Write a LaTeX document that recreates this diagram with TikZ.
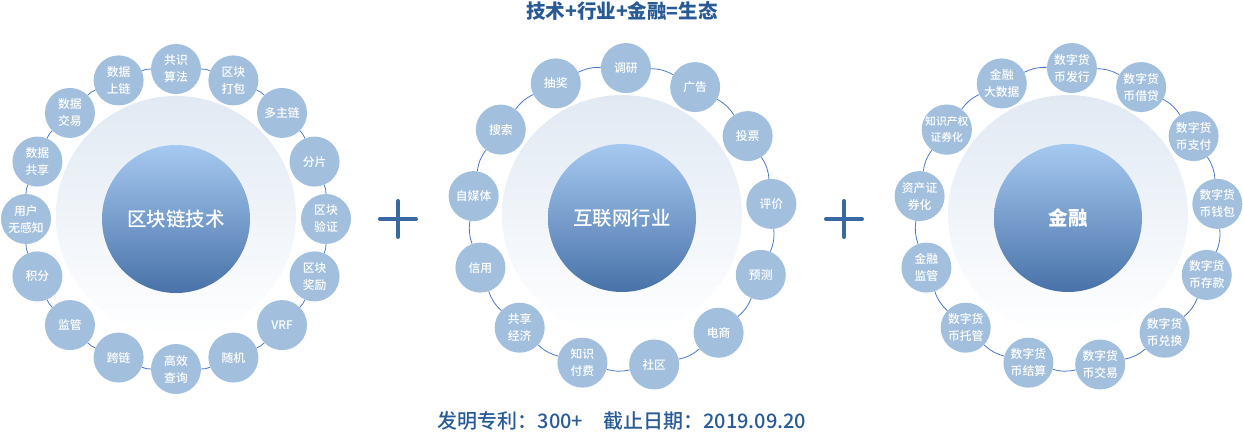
\documentclass[tikz,border=0pt]{standalone}
\usepackage{fontspec}
\setmainfont{Noto Sans CJK SC}
\newfontfamily\medfont{Noto Sans CJK SC Medium}
\usepackage{tikz}

\definecolor{satfill}{RGB}{162,192,221}
\definecolor{ringline}{RGB}{74,118,206}
\definecolor{coretop}{RGB}{166,201,240}
\definecolor{corebot}{RGB}{72,114,168}
\definecolor{halotop}{RGB}{225,233,243}
\definecolor{halomid}{RGB}{236,242,251}
\definecolor{titleblue}{RGB}{40,90,150}
\definecolor{plusblue}{RGB}{58,104,160}

\tikzset{
  sat/.style={circle, fill=satfill, minimum size=50pt, inner sep=0pt, align=center,
    text=white, font=\medfont\fontsize{11.8}{17}\selectfont},
  halo/.style={circle, minimum size=240pt, inner sep=0pt,
    top color=halotop, middle color=halomid, bottom color=white},
  core/.style={circle, minimum size=148pt, inner sep=0pt, top color=coretop,
    bottom color=corebot, text=white, font=\medfont\fontsize{19.5}{22}\selectfont},
  ring/.style={draw=ringline, line width=0.8pt},
  plus/.style={draw=plusblue, line width=4pt, line cap=round}
}

\begin{document}
\begin{tikzpicture}[x=1pt, y=1pt]
\useasboundingbox (0,0) rectangle (1243,432);

\node[font=\bfseries\fontsize{19.5}{22}\selectfont, text=titleblue] (title) at (622,421) {技术+行业+金融=生态};
\node[font=\medfont\fontsize{20}{22}\selectfont, text=titleblue] (foot) at (622,11) {发明专利：300+\quad 截止日期：2019.09.20};

% blockchain
\begin{scope}[shift={(176,213)}]
\node[halo] (techhalo) at (0,3) {};
\node[core] (techcore) at (0,0) {区块链技术};
\node[sat] (tech0) at (90:150) {共识\\算法};
\node[sat] (tech1) at (67.5:150) {区块\\打包};
\node[sat] (tech2) at (45:150) {多主链};
\node[sat] (tech3) at (22.5:150) {分片};
\node[sat] (tech4) at (0:150) {区块\\验证};
\node[sat] (tech5) at (-22.5:150) {区块\\奖励};
\node[sat] (tech6) at (-45:150) {VRF};
\node[sat] (tech7) at (-67.5:150) {随机};
\node[sat] (tech8) at (-90:150) {高效\\查询};
\node[sat] (tech9) at (-112.5:150) {跨链};
\node[sat] (tech10) at (-135:150) {监管};
\node[sat] (tech11) at (-157.5:150) {积分};
\node[sat] (tech12) at (180:150) {用户\\无感知};
\node[sat] (tech13) at (157.5:150) {数据\\共享};
\node[sat] (tech14) at (135:150) {数据\\交易};
\node[sat] (tech15) at (112.5:150) {数据\\上链};
\end{scope}
\foreach \i [evaluate=\i as \j using {int(mod(\i+1,16))}] in {0,...,15}
  \draw[ring] (tech\i) to[bend left=11.25] (tech\j);

\draw[plus] (380,213) -- (416,213);
\draw[plus] (398,195) -- (398,231);

% internet
\begin{scope}[shift={(622,214)}]
\node[halo] (webhalo) at (0,3) {};
\node[core] (webcore) at (0,0) {互联网行业};
\node[sat] (web0) at (88.5:150) {调研};
\node[sat] (web1) at (60.8:150) {广告};
\node[sat] (web2) at (33.1:150) {投票};
\node[sat] (web3) at (5.4:150) {评价};
\node[sat] (web4) at (-22.3:150) {预测};
\node[sat] (web5) at (-49.9:150) {电商};
\node[sat] (web6) at (-77.6:150) {社区};
\node[sat] (web7) at (-105.3:150) {知识\\付费};
\node[sat] (web8) at (-133.0:150) {共享\\经济};
\node[sat] (web9) at (-160.7:150) {信用};
\node[sat] (web10) at (-188.4:150) {自媒体};
\node[sat] (web11) at (-216.1:150) {搜索};
\node[sat] (web12) at (-243.8:150) {抽奖};
\end{scope}
\foreach \i [evaluate=\i as \j using {int(mod(\i+1,13))}] in {0,...,12}
  \draw[ring] (web\i) to[bend left=13.85] (web\j);

\draw[plus] (826,213) -- (862,213);
\draw[plus] (844,195) -- (844,231);

% finance
\begin{scope}[shift={(1068,214)}]
\node[halo] (finhalo) at (0,3) {};
\node[core] (fincore) at (0,0) {\bfseries 金融};
\node[sat] (fin0) at (88.5:150) {数字货\\币发行};
\node[sat] (fin1) at (60.8:150) {数字货\\币借贷};
\node[sat] (fin2) at (33.1:150) {数字货\\币支付};
\node[sat] (fin3) at (5.4:150) {数字货\\币钱包};
\node[sat] (fin4) at (-22.3:150) {数字货\\币存款};
\node[sat] (fin5) at (-49.9:150) {数字货\\币兑换};
\node[sat] (fin6) at (-77.6:150) {数字货\\币交易};
\node[sat] (fin7) at (-105.3:150) {数字货\\币结算};
\node[sat] (fin8) at (-133.0:150) {数字货\\币托管};
\node[sat] (fin9) at (-160.7:150) {金融\\监管};
\node[sat] (fin10) at (-188.4:150) {资产证\\券化};
\node[sat, font=\medfont\fontsize{10.8}{16}\selectfont] (fin11) at (-216.1:150) {知识产权\\证券化};
\node[sat] (fin12) at (-243.8:150) {金融\\大数据};
\end{scope}
\foreach \i [evaluate=\i as \j using {int(mod(\i+1,13))}] in {0,...,12}
  \draw[ring] (fin\i) to[bend left=13.85] (fin\j);
\end{tikzpicture}
\end{document}
